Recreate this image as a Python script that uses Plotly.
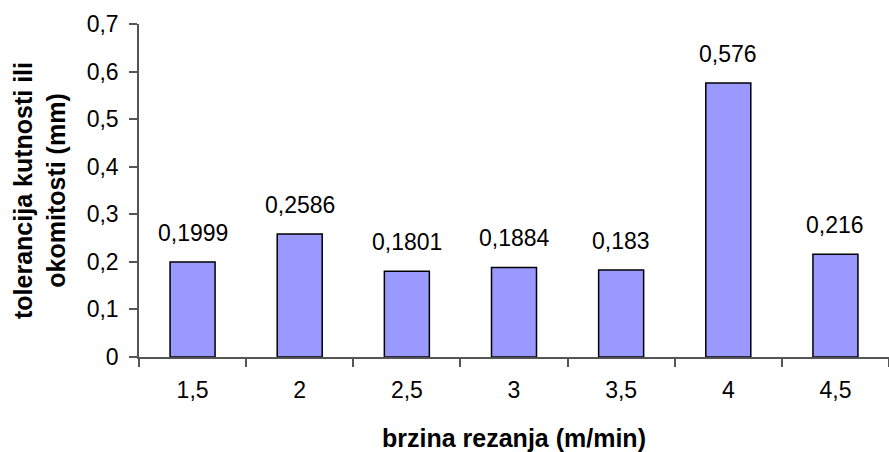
import plotly.graph_objects as go

# Cutting speed categories and measured tolerance values
categories = ["1,5", "2", "2,5", "3", "3,5", "4", "4,5"]
tolerance = [0.1999, 0.2586, 0.1801, 0.1884, 0.183, 0.576, 0.216]
y_ticks = [0, 0.1, 0.2, 0.3, 0.4, 0.5, 0.6, 0.7]

FONT = "Liberation Sans, Arial, sans-serif"

fig = go.Figure()
fig.add_trace(go.Bar(
    x=categories,
    y=tolerance,
    marker=dict(color="#9999FF", line=dict(color="#000000", width=1.5)),
    hoverinfo="x+y",
))

# Value labels above each bar (positioned by category index)
for i, val in enumerate(tolerance):
    fig.add_annotation(
        x=i, y=val, text=str(val).replace(".", ","),
        showarrow=False, yanchor="bottom", yshift=14,
        font=dict(family=FONT, size=23, color="#000000"),
    )

fig.update_layout(
    width=889, height=452,
    margin=dict(l=139, r=0, t=24, b=95),
    paper_bgcolor="white", plot_bgcolor="white",
    separators=",.",
    bargap=0.58,
    showlegend=False,
    font=dict(family=FONT, size=23, color="#000000"),
)

fig.update_xaxes(
    type="category",
    automargin=False,
    showline=True, linecolor="#555555", linewidth=1.5,
    ticks="outside", tickson="boundaries", ticklen=8, tickcolor="#555555", tickwidth=1.5,
    showgrid=False, zeroline=False,
    tickfont=dict(family=FONT, size=23),
    ticklabelstandoff=12,
    title=dict(text="<b>brzina rezanja (m/min)</b>", font=dict(family=FONT, size=25), standoff=34),
)

fig.update_yaxes(
    range=[0, 0.7],
    tickvals=y_ticks,
    automargin=False,
    showline=True, linecolor="#555555", linewidth=1.5,
    ticks="outside", ticklen=8, tickcolor="#555555", tickwidth=1.5,
    showgrid=False, zeroline=False,
    tickfont=dict(family=FONT, size=23),
    ticklabelstandoff=6,
    title=dict(text="<b>tolerancija kutnosti ili<br>okomitosti (mm)</b>", font=dict(family=FONT, size=25), standoff=14),
)

fig.write_html("out.html")
